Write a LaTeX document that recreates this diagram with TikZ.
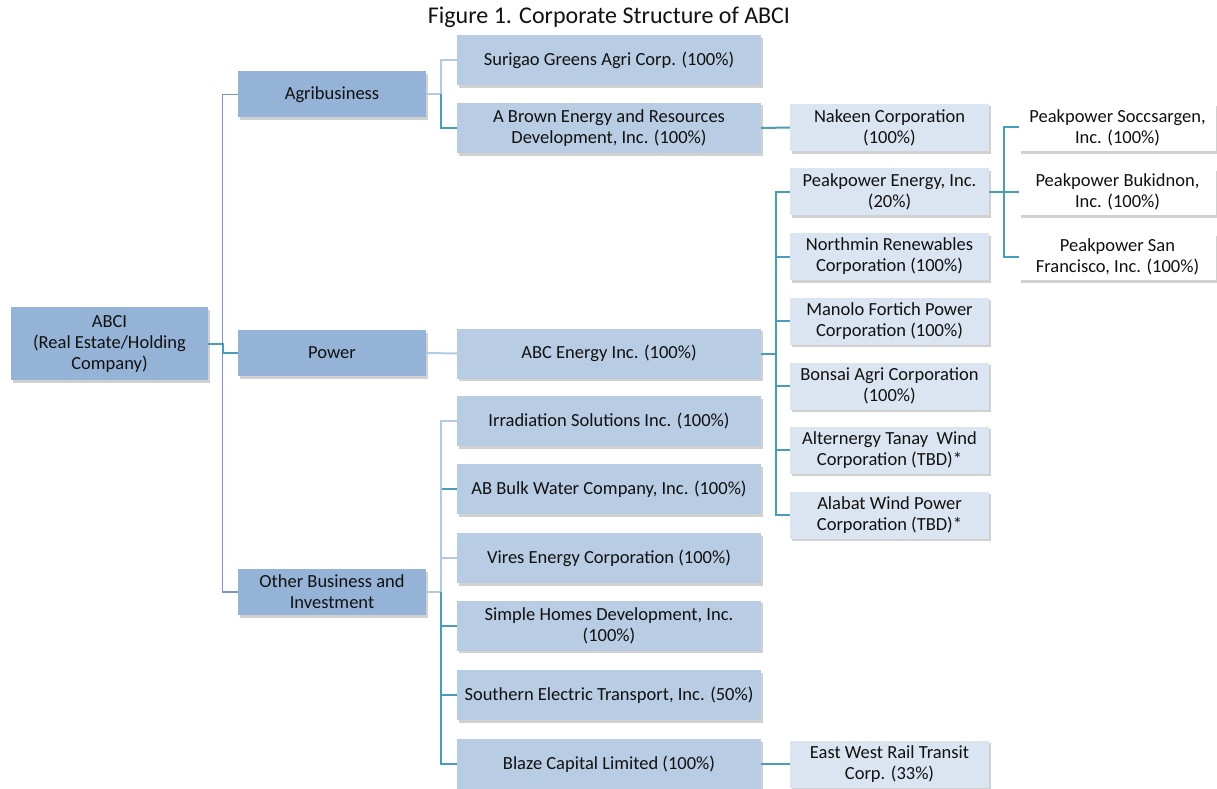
\documentclass[tikz,border=0pt]{standalone}
\usepackage{fontspec}
\setmainfont{Carlito}
\usetikzlibrary{shadows}
\definecolor{cA}{HTML}{95B3D7}
\definecolor{cB}{HTML}{B8CCE4}
\definecolor{cC}{HTML}{DBE5F1}
\definecolor{tealln}{HTML}{4A9DB8}
\definecolor{lightln}{HTML}{B4CAE3}
\definecolor{greyln}{HTML}{7E97BC}
\definecolor{txt}{HTML}{111111}
\begin{document}
\begin{tikzpicture}[x=1pt,y=-1pt,
  box/.style={inner sep=0pt, align=center, text=txt,
    font=\fontsize{18.5}{21}\selectfont,
    drop shadow={shadow xshift=1.5pt, shadow yshift=-2.5pt, opacity=0.3, fill=black!60}},
  boxA/.style={box, fill=cA, minimum width=197, minimum height=73},
  boxL1/.style={box, fill=cA, minimum width=188, minimum height=46},
  boxL2/.style={box, fill=cB, minimum width=304, minimum height=50},
  boxL3/.style={box, fill=cC, minimum width=199, minimum height=47},
  boxL4/.style={box, fill=white, minimum width=197, minimum height=47},
  tealline/.style={draw=tealln, line width=2pt},
  lightline/.style={draw=lightln, line width=2pt},
  greyline/.style={draw=greyln, line width=1.2pt}]
\useasboundingbox (0,0) rectangle (1217,789);

\node[text=txt, font=\fontsize{24}{28}\selectfont] (title) at (609,17) {Figure 1. Corporate Structure of ABCI};

% root and level 1
\node[boxA] (abci) at (109.5,343.5) {ABCI\\(Real Estate/Holding\\Company)};
\node[boxL1] (agri) at (332,94.5) {Agribusiness};
\node[boxL1] (power) at (332,353) {Power};
\node[boxL1] (other) at (332,592) {Other Business and\\Investment};

% level 2
\node[boxL2] (surigao) at (609,60.5) {Surigao Greens Agri Corp. (100\%)};
\node[boxL2] (abrown) at (609,128) {A Brown Energy and Resources\\Development, Inc. (100\%)};
\node[boxL2] (abc) at (609,353.5) {ABC Energy Inc. (100\%)};
\node[boxL2] (irr) at (609,421) {Irradiation Solutions Inc. (100\%)};
\node[boxL2] (bulk) at (609,489) {AB Bulk Water Company, Inc. (100\%)};
\node[boxL2] (vires) at (609,558) {Vires Energy Corporation (100\%)};
\node[boxL2] (simple) at (609,625.5) {Simple Homes Development, Inc.\\(100\%)};
\node[boxL2] (southern) at (609,695) {Southern Electric Transport, Inc. (50\%)};
\node[boxL2] (blaze) at (609,764) {Blaze Capital Limited (100\%)};

% level 3
\node[boxL3] (nakeen) at (889.5,127.5) {Nakeen Corporation\\(100\%)};
\node[boxL3] (ppe) at (889.5,191.5) {Peakpower Energy, Inc.\\(20\%)};
\node[boxL3] (northmin) at (889.5,256.5) {Northmin Renewables\\Corporation (100\%)};
\node[boxL3] (manolo) at (889.5,321) {Manolo Fortich Power\\Corporation (100\%)};
\node[boxL3] (bonsai) at (889.5,386) {Bonsai Agri Corporation\\(100\%)};
\node[boxL3] (tanay) at (889.5,450) {Alternergy Tanay\ \ Wind\\Corporation (TBD)*};
\node[boxL3] (alabat) at (889.5,515) {Alabat Wind Power\\Corporation (TBD)*};
\node[boxL3] (eastwest) at (889.5,764) {East West Rail Transit\\Corp. (33\%)};

% level 4
\node[boxL4] (socc) at (1117.5,127.5) {Peakpower Soccsargen,\\Inc. (100\%)};
\node[boxL4] (bukid) at (1117.5,191.5) {Peakpower Bukidnon,\\Inc. (100\%)};
\node[boxL4] (sanfran) at (1117.5,256.5) {Peakpower San\\Francisco, Inc. (100\%)};

% connectors: root
\draw[greyline] (agri.west) -- ++(-15,0) |- (other.west);
\draw[tealline] (abci.east) -- ++(15,0) |- (power.west);

% agribusiness
\draw[lightline] (agri.east) -- ++(15,0) |- (surigao.west);
\draw[tealline] (agri.east) ++(15,0) |- (abrown.west);
\draw[tealline] (abrown.east) -- (nakeen.west);

% power
\draw[lightline] (power.east) -- (abc.west);
\foreach \n in {ppe,northmin,manolo,bonsai,tanay,alabat}
  \draw[tealline] (abc.east) -- ++(15,0) |- (\n.west);
\foreach \n in {socc,bukid,sanfran}
  \draw[tealline] (ppe.east) -- ++(15,0) |- (\n.west);

% other business
\draw[lightline] (other.east) -- ++(15,0) |- (irr.west);
\draw[lightline] (other.east) -- ++(15,0) |- (vires.west);
\draw[tealline] (bulk.west) -- ++(-15,0);
\foreach \n in {simple,southern,blaze}
  \draw[tealline] (other.east) ++(15,0) |- (\n.west);
\draw[tealline] (blaze.east) -- (eastwest.west);
\end{tikzpicture}
\end{document}
